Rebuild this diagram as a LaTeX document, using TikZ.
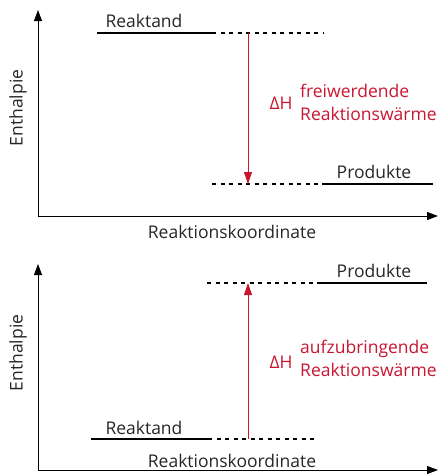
\documentclass[tikz,border=0pt]{standalone}
\usepackage{fontspec}
\setmainfont{Open Sans}
\usetikzlibrary{arrows.meta}
\definecolor{wred}{RGB}{200,22,48}
\tikzset{
  axis/.style={line width=0.9pt,-{Triangle[length=11pt,width=8pt]}},
  level/.style={line width=1.5pt},
  dotted level/.style={line width=1.1pt,dash pattern=on 4pt off 4.5pt},
  dh/.style={line width=0.9pt,color=wred,-{Triangle[length=12pt,width=8pt]}},
  lbl/.style={inner sep=0pt,font=\fontsize{17.5}{20}\selectfont,text=black!85},
  redlbl/.style={lbl,text=wred,align=left,font=\fontsize{17.5}{23}\selectfont}
}
\begin{document}
\begin{tikzpicture}[line cap=butt,line join=round,x=1pt,y=-1pt]
				\useasboundingbox (0,0) rectangle (447,475);
				% oben: Reaktion setzt Waerme frei
				\coordinate (oA) at (38,216);
				\coordinate (oY) at (38,10);
				\coordinate (oX) at (438,216);
				\draw [axis] (oA) -- (oY);
				\draw [axis] (oA) -- (oX);
				\coordinate (oR1) at (97,33);
				\coordinate (oR2) at (212,33);
				\coordinate (oR3) at (323,33);
				\coordinate (oP1) at (212,184);
				\coordinate (oP2) at (322,184);
				\coordinate (oP3) at (433,184);
				\draw [level] (oR1) -- (oR2);
				\draw [dotted level] (oR2) -- (oR3);
				\draw [dotted level] (oP1) -- (oP2);
				\draw [level] (oP2) -- (oP3);
				\coordinate (oDa) at (248,33);
				\coordinate (oDb) at (248,184);
				\draw [dh] (oDa) -- (oDb);
				\node[lbl] (oReak) at (144,21) {Reaktand};
				\node[lbl] (oProd) at (374,172) {Produkte};
				\node[lbl,text=wred] (oDH) at (281,103) {ΔH};
				\node[redlbl,anchor=west] (oText) at (300,102) {freiwerdende\\Reaktionswärme};
				\node[lbl,rotate=90] (oEnth) at (18,108) {Enthalpie};
				\node[lbl] (oKoord) at (232,232) {Reaktionskoordinate};
				% unten: Reaktion braucht Waerme
				\coordinate (uA) at (38,470);
				\coordinate (uY) at (38,264);
				\coordinate (uX) at (438,470);
				\draw [axis] (uA) -- (uY);
				\draw [axis] (uA) -- (uX);
				\coordinate (uR1) at (91,439);
				\coordinate (uR2) at (208,439);
				\coordinate (uR3) at (318,439);
				\coordinate (uP1) at (207,283);
				\coordinate (uP2) at (317,283);
				\coordinate (uP3) at (427,283);
				\draw [level] (uR1) -- (uR2);
				\draw [dotted level] (uR2) -- (uR3);
				\draw [dotted level] (uP1) -- (uP2);
				\draw [level] (uP2) -- (uP3);
				\coordinate (uDa) at (248,439);
				\coordinate (uDb) at (248,283);
				\draw [dh] (uDa) -- (uDb);
				\node[lbl] (uReak) at (144,428) {Reaktand};
				\node[lbl] (uProd) at (374,271) {Produkte};
				\node[lbl,text=wred] (uDH) at (281,362) {ΔH};
				\node[redlbl,anchor=west] (uText) at (300,358) {aufzubringende\\Reaktionswärme};
				\node[lbl,rotate=90] (uEnth) at (18,353) {Enthalpie};
				\node[lbl] (uKoord) at (232,461) {Reaktionskoordinate};
			\end{tikzpicture}
\end{document}
